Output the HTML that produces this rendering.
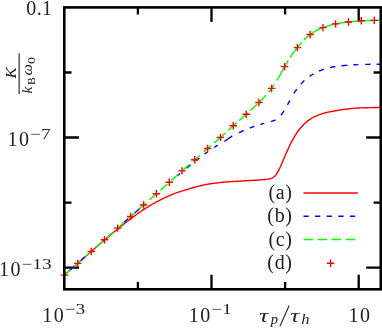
<!DOCTYPE html>
<html><head><meta charset="utf-8"><title>plot</title>
<style>
html,body{margin:0;padding:0;background:#fff;}
body{width:382px;height:328px;overflow:hidden;}
svg{display:block;will-change:transform;}
text{font-family:"Liberation Serif",serif;fill:#222;}
.t{font-size:20px;}
.s{font-size:14px;}
.i{font-style:italic;}
</style></head><body>
<svg width="382" height="328" viewBox="0 0 382 328">
<rect width="382" height="328" fill="#fff"/>
<path d="M137.9,289.3v-7.2M137.9,7.4v7.2M211.5,289.3v-14.6M211.5,7.4v14.6M285.1,289.3v-7.2M285.1,7.4v7.2M358.7,289.3v-14.6M358.7,7.4v14.6M64.3,72.5h7.2M380.8,72.5h-7.2M64.3,137.5h14.6M380.8,137.5h-14.6M64.3,202.6h7.2M380.8,202.6h-7.2M64.3,267.6h14.6M380.8,267.6h-14.6" stroke="#000" stroke-width="2.3" fill="none"/>
<path d="M64.5,275.10 L65.5,274.17 L66.5,273.25 L67.5,272.34 L68.5,271.44 L69.5,270.56 L70.5,269.68 L71.5,268.81 L72.5,267.93 L73.5,267.05 L74.5,266.17 L75.5,265.29 L76.5,264.42 L77.5,263.54 L78.5,262.66 L79.5,261.78 L80.5,260.91 L81.5,260.03 L82.5,259.16 L83.5,258.28 L84.5,257.41 L85.5,256.53 L86.5,255.66 L87.5,254.78 L88.5,253.91 L89.5,253.04 L90.5,252.17 L91.5,251.30 L92.5,250.43 L93.5,249.56 L94.5,248.70 L95.5,247.83 L96.5,246.96 L97.5,246.10 L98.5,245.24 L99.5,244.38 L100.5,243.52 L101.5,242.66 L102.5,241.80 L103.5,240.94 L104.5,240.09 L105.5,239.24 L106.5,238.39 L107.5,237.54 L108.5,236.69 L109.5,235.85 L110.5,235.01 L111.5,234.17 L112.5,233.33 L113.5,232.50 L114.5,231.67 L115.5,230.84 L116.5,230.02 L117.5,229.20 L118.5,228.38 L119.5,227.57 L120.5,226.76 L121.5,225.95 L122.5,225.15 L123.5,224.35 L124.5,223.56 L125.5,222.78 L126.5,221.99 L127.5,221.22 L128.5,220.45 L129.5,219.68 L130.5,218.92 L131.5,218.17 L132.5,217.42 L133.5,216.68 L134.5,215.95 L135.5,215.23 L136.5,214.51 L137.5,213.80 L138.5,213.09 L139.5,212.40 L140.5,211.71 L141.5,211.03 L142.5,210.36 L143.5,209.70 L144.5,209.05 L145.5,208.41 L146.5,207.77 L147.5,207.14 L148.5,206.53 L149.5,205.92 L150.5,205.32 L151.5,204.73 L152.5,204.15 L153.5,203.58 L154.5,203.02 L155.5,202.46 L156.5,201.92 L157.5,201.38 L158.5,200.86 L159.5,200.34 L160.5,199.83 L161.5,199.33 L162.5,198.84 L163.5,198.35 L164.5,197.87 L165.5,197.41 L166.5,196.94 L167.5,196.49 L168.5,196.04 L169.5,195.60 L170.5,195.16 L171.5,194.74 L172.5,194.33 L173.5,193.92 L174.5,193.53 L175.5,193.15 L176.5,192.79 L177.5,192.45 L178.5,192.12 L179.5,191.79 L180.5,191.48 L181.5,191.17 L182.5,190.87 L183.5,190.59 L184.5,190.31 L185.5,190.02 L186.5,189.73 L187.5,189.42 L188.5,189.10 L189.5,188.77 L190.5,188.43 L191.5,188.11 L192.5,187.79 L193.5,187.50 L194.5,187.22 L195.5,186.95 L196.5,186.68 L197.5,186.42 L198.5,186.17 L199.5,185.93 L200.5,185.70 L201.5,185.48 L202.5,185.26 L203.5,185.05 L204.5,184.85 L205.5,184.66 L206.5,184.47 L207.5,184.29 L208.5,184.12 L209.5,183.95 L210.5,183.79 L211.5,183.64 L212.5,183.50 L213.5,183.36 L214.5,183.22 L215.5,183.10 L216.5,182.97 L217.5,182.85 L218.5,182.74 L219.5,182.63 L220.5,182.52 L221.5,182.42 L222.5,182.32 L223.5,182.23 L224.5,182.14 L225.5,182.05 L226.5,181.96 L227.5,181.88 L228.5,181.81 L229.5,181.74 L230.5,181.67 L231.5,181.60 L232.5,181.53 L233.5,181.47 L234.5,181.40 L235.5,181.34 L236.5,181.28 L237.5,181.22 L238.5,181.16 L239.5,181.10 L240.5,181.04 L241.5,180.99 L242.5,180.93 L243.5,180.87 L244.5,180.82 L245.5,180.77 L246.5,180.72 L247.5,180.67 L248.5,180.62 L249.5,180.57 L250.5,180.52 L251.5,180.47 L252.5,180.42 L253.5,180.36 L254.5,180.30 L255.5,180.24 L256.5,180.18 L257.5,180.12 L258.5,180.05 L259.5,179.99 L260.5,179.92 L261.5,179.84 L262.5,179.76 L263.5,179.67 L264.5,179.57 L265.5,179.46 L266.5,179.33 L267.5,179.18 L268.5,179.00 L269.5,178.77 L270.5,178.51 L271.5,178.20 L272.5,177.77 L273.5,177.21 L274.5,176.50 L275.5,175.59 L276.5,174.16 L277.5,172.45 L278.5,170.63 L279.5,168.60 L280.5,166.47 L281.5,164.20 L282.5,161.84 L283.5,159.48 L284.5,157.10 L285.5,154.77 L286.5,152.56 L287.5,150.39 L288.5,148.19 L289.5,145.93 L290.5,143.80 L291.5,141.89 L292.5,140.12 L293.5,138.38 L294.5,136.65 L295.5,134.98 L296.5,133.39 L297.5,131.87 L298.5,130.47 L299.5,129.22 L300.5,128.07 L301.5,126.93 L302.5,125.79 L303.5,124.70 L304.5,123.68 L305.5,122.77 L306.5,121.93 L307.5,121.16 L308.5,120.42 L309.5,119.69 L310.5,118.98 L311.5,118.31 L312.5,117.71 L313.5,117.19 L314.5,116.71 L315.5,116.27 L316.5,115.85 L317.5,115.46 L318.5,115.07 L319.5,114.69 L320.5,114.32 L321.5,113.97 L322.5,113.64 L323.5,113.33 L324.5,113.05 L325.5,112.78 L326.5,112.53 L327.5,112.30 L328.5,112.07 L329.5,111.86 L330.5,111.66 L331.5,111.47 L332.5,111.29 L333.5,111.12 L334.5,110.95 L335.5,110.78 L336.5,110.61 L337.5,110.44 L338.5,110.27 L339.5,110.10 L340.5,109.93 L341.5,109.77 L342.5,109.61 L343.5,109.47 L344.5,109.34 L345.5,109.21 L346.5,109.08 L347.5,108.96 L348.5,108.85 L349.5,108.74 L350.5,108.64 L351.5,108.54 L352.5,108.46 L353.5,108.37 L354.5,108.29 L355.5,108.20 L356.5,108.13 L357.5,108.06 L358.5,108.00 L359.5,107.94 L360.5,107.90 L361.5,107.87 L362.5,107.84 L363.5,107.81 L364.5,107.78 L365.5,107.75 L366.5,107.72 L367.5,107.69 L368.5,107.67 L369.5,107.64 L370.5,107.62 L371.5,107.60 L372.5,107.58 L373.5,107.56 L374.5,107.55 L375.5,107.54 L376.5,107.52 L377.5,107.51 L378.5,107.51 L379.5,107.50 L380.5,107.50" stroke="#ff0000" stroke-width="1.4" fill="none"/>
<path d="M70.0,270.07 L70.5,269.62 L71.0,269.18 L71.5,268.74 L72.0,268.30 L72.5,267.86 L73.0,267.42 L73.5,266.98 L74.0,266.54 L74.5,266.09M81.0,260.35 L81.5,259.91 L82.0,259.47 L82.5,259.03 L83.0,258.59 L83.5,258.14 L84.0,257.70 L84.5,257.26 L85.0,256.82 L85.5,256.38M124.0,222.38 L124.5,221.94 L125.0,221.50 L125.5,221.06 L126.0,220.62 L126.5,220.18 L127.0,219.74 L127.5,219.30 L128.0,218.85 L128.5,218.41M134.8,212.86 L135.3,212.42 L135.8,211.98 L136.3,211.54 L136.8,211.10 L137.3,210.66 L137.8,210.22 L138.3,209.78 L138.8,209.34 L139.3,208.90M177.5,175.69 L178.0,175.27 L178.5,174.85 L179.0,174.43 L179.5,174.00 L180.0,173.58M186.6,168.09 L187.1,167.68 L187.6,167.27 L188.1,166.86 L188.6,166.45 L189.1,166.05 L189.6,165.64 L190.1,165.23 L190.6,164.83M195.8,160.69 L196.3,160.30 L196.8,159.91 L197.3,159.53 L197.8,159.14 L198.3,158.76 L198.8,158.37 L199.3,157.99M204.6,154.03 L205.1,153.67 L205.6,153.31 L206.1,152.95 L206.6,152.59 L207.1,152.24 L207.6,151.88M214.2,147.40 L214.7,147.08 L215.2,146.75 L215.7,146.43 L216.2,146.11 L216.7,145.80 L217.2,145.49 L217.7,145.17M224.3,141.32 L224.8,141.04 L225.3,140.76 L225.8,140.46 L226.3,140.16 L226.8,139.84 L227.3,139.50 L227.8,139.16 L228.3,138.80 L228.8,138.44 L229.3,138.08 L229.8,137.71 L230.3,137.34 L230.8,136.98 L231.3,136.62 L231.8,136.27 L232.3,135.93M238.9,132.66 L239.4,132.46 L239.9,132.26 L240.4,132.05 L240.9,131.84 L241.4,131.63 L241.9,131.41 L242.4,131.19 L242.9,130.97 L243.4,130.75 L243.9,130.53M249.9,127.98 L250.4,127.77 L250.9,127.57 L251.4,127.37 L251.9,127.18 L252.4,127.00 L252.9,126.82 L253.4,126.65 L253.9,126.48 L254.4,126.32M260.3,124.49 L260.8,124.33 L261.3,124.18 L261.8,124.03 L262.3,123.88 L262.8,123.73 L263.3,123.59 L263.8,123.44 L264.3,123.30M271.0,121.51 L271.5,121.36 L272.0,121.20 L272.5,121.04 L273.0,120.87 L273.5,120.69 L274.0,120.50 L274.5,120.30 L275.0,120.08 L275.5,119.84M281.0,115.22 L281.5,114.53 L282.0,113.80 L282.5,113.05 L283.0,112.30 L283.5,111.52 L284.0,110.72M287.4,104.93 L287.9,104.07 L288.4,103.21 L288.9,102.32 L289.4,101.42 L289.9,100.50M293.8,93.50 L294.3,92.71 L294.8,91.95 L295.3,91.22 L295.8,90.51 L296.3,89.82 L296.8,89.15M300.9,84.16 L301.4,83.62 L301.9,83.10 L302.4,82.58 L302.9,82.07 L303.4,81.57 L303.9,81.08 L304.4,80.60M309.5,76.44 L310.0,76.10 L310.5,75.77 L311.0,75.44 L311.5,75.12 L312.0,74.81 L312.5,74.50 L313.0,74.20 L313.5,73.91M318.9,71.19 L319.4,70.97 L319.9,70.76 L320.4,70.56 L320.9,70.35 L321.4,70.15 L321.9,69.96 L322.4,69.76 L322.9,69.58 L323.4,69.39 L323.9,69.21M329.9,67.52 L330.4,67.42 L330.9,67.32 L331.4,67.23 L331.9,67.13 L332.4,67.04 L332.9,66.95 L333.4,66.87 L333.9,66.78 L334.4,66.70 L334.9,66.62 L335.4,66.55M341.4,65.78 L341.9,65.73 L342.4,65.68 L342.9,65.64 L343.4,65.59 L343.9,65.55 L344.4,65.50 L344.9,65.46 L345.4,65.42 L345.9,65.37 L346.4,65.33 L346.9,65.29 L347.4,65.25M353.4,64.82 L353.9,64.79 L354.4,64.76 L354.9,64.73 L355.4,64.70 L355.9,64.68 L356.4,64.65 L356.9,64.63 L357.4,64.61 L357.9,64.59 L358.4,64.57M365.1,64.40 L365.6,64.39 L366.1,64.38 L366.6,64.36 L367.1,64.35 L367.6,64.34 L368.1,64.34 L368.6,64.33 L369.1,64.32 L369.6,64.31 L370.1,64.30 L370.6,64.29M376.6,64.22 L377.1,64.21 L377.6,64.21 L378.1,64.21 L378.6,64.21 L379.1,64.20 L379.6,64.20 L380.1,64.20 L380.6,64.20" stroke="#0000ff" stroke-width="1.4" fill="none"/>
<path d="M64.5,275.10 L65.0,274.66 L65.5,274.22 L66.0,273.79 L66.5,273.35 L67.0,272.91 L67.5,272.47 L68.0,272.03 L68.5,271.59 L69.0,271.15 L69.5,270.71 L70.0,270.28 L70.5,269.84M74.0,266.75 L74.5,266.31 L75.0,265.87 L75.5,265.43 L76.0,264.99 L76.5,264.55 L77.0,264.11 L77.5,263.67 L78.0,263.22 L78.5,262.78 L79.0,262.34 L79.5,261.90 L80.0,261.45 L80.5,261.01 L81.0,260.57M84.8,257.19 L85.3,256.74 L85.8,256.30 L86.3,255.86 L86.8,255.41 L87.3,254.97 L87.8,254.52 L88.3,254.08 L88.8,253.63 L89.3,253.19 L89.8,252.74 L90.3,252.30 L90.8,251.86 L91.3,251.41 L91.8,250.97M95.6,247.59 L96.1,247.15 L96.6,246.70 L97.1,246.26 L97.6,245.81 L98.1,245.37 L98.6,244.93 L99.1,244.48 L99.6,244.04 L100.1,243.59 L100.6,243.15 L101.1,242.71 L101.6,242.27 L102.1,241.82 L102.6,241.38M106.4,238.03 L106.9,237.59 L107.4,237.15 L107.9,236.71 L108.4,236.27 L108.9,235.83 L109.4,235.39 L109.9,234.96 L110.4,234.52 L110.9,234.08 L111.4,233.64 L111.9,233.20 L112.4,232.77 L112.9,232.33 L113.4,231.89M117.2,228.54 L117.7,228.10 L118.2,227.66 L118.7,227.21 L119.2,226.77 L119.7,226.33 L120.2,225.88 L120.7,225.43 L121.2,224.99 L121.7,224.54 L122.2,224.10 L122.7,223.65 L123.2,223.20 L123.7,222.76 L124.2,222.31M128.0,218.91 L128.5,218.46 L129.0,218.02 L129.5,217.57 L130.0,217.12 L130.5,216.68 L131.0,216.23 L131.5,215.79 L132.0,215.34 L132.5,214.89 L133.0,214.45 L133.5,214.00 L134.0,213.55 L134.5,213.11 L135.0,212.66M138.8,209.26 L139.3,208.82 L139.8,208.37 L140.3,207.93 L140.8,207.48 L141.3,207.04 L141.8,206.59 L142.3,206.15 L142.8,205.71 L143.3,205.27 L143.8,204.82 L144.3,204.38 L144.8,203.94 L145.3,203.50 L145.8,203.07M149.6,199.75 L150.1,199.31 L150.6,198.88 L151.1,198.44 L151.6,198.01 L152.1,197.57 L152.6,197.13 L153.1,196.70 L153.6,196.26 L154.1,195.82 L154.6,195.38 L155.1,194.95 L155.6,194.51 L156.1,194.06 L156.6,193.62M160.4,190.25 L160.9,189.81 L161.4,189.36 L161.9,188.92 L162.4,188.47 L162.9,188.02 L163.4,187.58 L163.9,187.13 L164.4,186.68 L164.9,186.24 L165.4,185.79 L165.9,185.34 L166.4,184.89 L166.9,184.45 L167.4,184.00M171.2,180.59 L171.7,180.14 L172.2,179.69 L172.7,179.24 L173.2,178.79 L173.7,178.34 L174.2,177.89 L174.7,177.44 L175.2,176.99 L175.7,176.54 L176.2,176.08 L176.7,175.63 L177.2,175.18 L177.7,174.73 L178.2,174.28M182.0,170.90 L182.5,170.46 L183.0,170.02 L183.5,169.58 L184.0,169.15 L184.5,168.71 L185.0,168.28 L185.5,167.84 L186.0,167.41 L186.5,166.98 L187.0,166.55 L187.5,166.11 L188.0,165.68 L188.5,165.25 L189.0,164.82M192.8,161.54 L193.3,161.11 L193.8,160.67 L194.3,160.24 L194.8,159.80 L195.3,159.36 L195.8,158.92 L196.3,158.48 L196.8,158.04 L197.3,157.60 L197.8,157.16 L198.3,156.72 L198.8,156.27 L199.3,155.83 L199.8,155.39M203.6,152.02 L204.1,151.57 L204.6,151.13 L205.1,150.69 L205.6,150.25 L206.1,149.81 L206.6,149.37 L207.1,148.94 L207.6,148.50 L208.1,148.07 L208.6,147.63 L209.1,147.20 L209.6,146.77 L210.1,146.34 L210.6,145.91 L211.1,145.48M214.0,143.01 L214.5,142.58 L215.0,142.16 L215.5,141.73 L216.0,141.30 L216.5,140.87 L217.0,140.45 L217.5,140.01 L218.0,139.58 L218.5,139.15 L219.0,138.72 L219.5,138.28 L220.0,137.84 L220.5,137.40 L221.0,136.96 L221.5,136.51 L222.0,136.07 L222.5,135.62 L223.0,135.17 L223.5,134.72 L224.0,134.27 L224.5,133.82 L225.0,133.36 L225.5,132.91M228.2,130.44 L228.7,129.99 L229.2,129.53 L229.7,129.07 L230.2,128.62 L230.7,128.16 L231.2,127.70 L231.7,127.25 L232.2,126.80 L232.7,126.34 L233.2,125.89 L233.7,125.44 L234.2,124.99 L234.7,124.54 L235.2,124.09 L235.7,123.64 L236.2,123.19 L236.7,122.74M239.3,120.41 L239.8,119.97 L240.3,119.52 L240.8,119.07 L241.3,118.62 L241.8,118.17 L242.3,117.72 L242.8,117.28 L243.3,116.82 L243.8,116.37 L244.3,115.92 L244.8,115.47 L245.3,115.02 L245.8,114.56 L246.3,114.11 L246.8,113.65 L247.3,113.20 L247.8,112.75M249.9,110.85 L250.4,110.40 L250.9,109.95 L251.4,109.49 L251.9,109.04 L252.4,108.58 L252.9,108.13 L253.4,107.67 L253.9,107.21 L254.4,106.75 L254.9,106.29 L255.4,105.83 L255.9,105.36 L256.4,104.89 L256.9,104.42 L257.4,103.94M259.5,101.92 L260.0,101.43 L260.5,100.94 L261.0,100.44 L261.5,99.95 L262.0,99.45 L262.5,98.94 L263.0,98.43 L263.5,97.91 L264.0,97.38 L264.5,96.84 L265.0,96.30 L265.5,95.75 L266.0,95.19M268.7,92.08 L269.2,91.48 L269.7,90.86 L270.2,90.23 L270.7,89.59 L271.2,88.94 L271.7,88.26 L272.2,87.57 L272.7,86.86 L273.2,86.14 L273.7,85.39 L274.2,84.63M276.8,80.49 L277.3,79.66 L277.8,78.83 L278.3,78.00 L278.8,77.14 L279.3,76.25 L279.8,75.35 L280.3,74.44 L280.8,73.52 L281.3,72.59 L281.8,71.66 L282.3,70.73 L282.8,69.81 L283.3,68.89 L283.8,68.00 L284.3,67.12 L284.8,66.26 L285.3,65.41 L285.8,64.56 L286.3,63.71 L286.8,62.87 L287.3,62.04 L287.8,61.21 L288.3,60.39M290.1,57.55 L290.6,56.79 L291.1,56.05 L291.6,55.33 L292.1,54.61 L292.6,53.91 L293.1,53.22 L293.6,52.53 L294.1,51.86 L294.6,51.20 L295.1,50.54 L295.6,49.89 L296.1,49.25 L296.6,48.61 L297.1,47.98 L297.6,47.35 L298.1,46.72 L298.6,46.09 L299.1,45.47 L299.6,44.85 L300.1,44.24 L300.6,43.63 L301.1,43.04 L301.6,42.46M303.9,40.00 L304.4,39.51 L304.9,39.02 L305.4,38.55 L305.9,38.08 L306.4,37.63 L306.9,37.19 L307.4,36.75 L307.9,36.33 L308.4,35.91 L308.9,35.51 L309.4,35.11 L309.9,34.73 L310.4,34.35 L310.9,33.98 L311.4,33.62 L311.9,33.26 L312.4,32.91 L312.9,32.57 L313.4,32.24 L313.9,31.91 L314.4,31.60 L314.9,31.29 L315.4,31.00 L315.9,30.72 L316.4,30.45 L316.9,30.19 L317.4,29.95 L317.9,29.70 L318.4,29.47 L318.9,29.24 L319.4,29.02 L319.9,28.80 L320.4,28.60 L320.9,28.39 L321.4,28.20 L321.9,28.00 L322.4,27.82 L322.9,27.64 L323.4,27.46 L323.9,27.28 L324.4,27.11 L324.9,26.93 L325.4,26.76 L325.9,26.59 L326.4,26.42 L326.9,26.26 L327.4,26.09 L327.9,25.93 L328.4,25.78 L328.9,25.62 L329.4,25.47 L329.9,25.32 L330.4,25.18 L330.9,25.03 L331.4,24.90 L331.9,24.76 L332.4,24.63 L332.9,24.50 L333.4,24.38 L333.9,24.26 L334.4,24.15 L334.9,24.04 L335.4,23.94 L335.9,23.84 L336.4,23.75 L336.9,23.65 L337.4,23.56 L337.9,23.47 L338.4,23.38 L338.9,23.30 L339.4,23.22 L339.9,23.14 L340.4,23.06 L340.9,22.98 L341.4,22.91 L341.9,22.83 L342.4,22.76 L342.9,22.69 L343.4,22.62 L343.9,22.55 L344.4,22.49 L344.9,22.42 L345.4,22.36 L345.9,22.30 L346.4,22.24 L346.9,22.18 L347.4,22.12 L347.9,22.06 L348.4,22.00 L348.9,21.94 L349.4,21.89 L349.9,21.83 L350.4,21.77 L350.9,21.71 L351.4,21.66 L351.9,21.60 L352.4,21.55 L352.9,21.49 L353.4,21.44 L353.9,21.39 L354.4,21.34 L354.9,21.29 L355.4,21.24 L355.9,21.19 L356.4,21.14 L356.9,21.10 L357.4,21.06 L357.9,21.02 L358.4,20.98 L358.9,20.94 L359.4,20.91 L359.9,20.88 L360.4,20.85 L360.9,20.82 L361.4,20.80 L361.9,20.77 L362.4,20.75 L362.9,20.73 L363.4,20.71 L363.9,20.69 L364.4,20.67 L364.9,20.65 L365.4,20.63 L365.9,20.62 L366.4,20.60 L366.9,20.58 L367.4,20.57 L367.9,20.55 L368.4,20.54 L368.9,20.52 L369.4,20.51 L369.9,20.50 L370.4,20.49 L370.9,20.47 L371.4,20.46 L371.9,20.45 L372.4,20.44 L372.9,20.43 L373.4,20.42 L373.9,20.41 L374.4,20.40 L374.9,20.39 L375.4,20.38 L375.9,20.37 L376.4,20.36 L376.9,20.35 L377.4,20.35 L377.9,20.34 L378.4,20.33 L378.9,20.32 L379.4,20.32 L379.9,20.31 L380.4,20.31 L380.9,20.30" stroke="#00ff00" stroke-width="1.4" fill="none"/>
<path d="M60.8,275.1h7.4M64.5,271.4v7.4M74.1,263.4h7.4M77.8,259.7v7.4M87.5,251.5h7.4M91.2,247.8v7.4M100.8,239.7h7.4M104.5,236.0v7.4M114.0,228.1h7.4M117.7,224.4v7.4M127.0,216.5h7.4M130.7,212.8v7.4M139.9,205.0h7.4M143.6,201.3v7.4M152.7,193.8h7.4M156.4,190.1v7.4M165.6,182.3h7.4M169.3,178.6v7.4M178.3,170.9h7.4M182.0,167.2v7.4M191.1,159.8h7.4M194.8,156.1v7.4M203.9,148.5h7.4M207.6,144.8v7.4M216.8,137.4h7.4M220.5,133.7v7.4M229.6,125.8h7.4M233.3,122.1v7.4M242.5,114.2h7.4M246.2,110.5v7.4M255.2,102.5h7.4M258.9,98.8v7.4M267.9,88.4h7.4M271.6,84.7v7.4M280.9,66.6h7.4M284.6,62.9v7.4M293.7,47.6h7.4M297.4,43.9v7.4M306.5,34.5h7.4M310.2,30.8v7.4M319.3,27.6h7.4M323.0,23.9v7.4M331.9,23.9h7.4M335.6,20.2v7.4M344.7,22.0h7.4M348.4,18.3v7.4M357.6,20.8h7.4M361.3,17.1v7.4M370.6,20.4h7.4M374.3,16.7v7.4M326.9,263.2h7.4M330.6,259.5v7.4" stroke="#ff0000" stroke-width="1.4" fill="none"/>
<rect x="64.3" y="7.4" width="316.5" height="281.90000000000003" fill="none" stroke="#000" stroke-width="2.6"/>
<!-- legend -->
<path d="M303.5,193H357.9" stroke="#ff0000" stroke-width="1.4"/>
<path d="M303.5,216.3H357.9" stroke="#0000ff" stroke-width="1.4" stroke-dasharray="5.2 6.4"/>
<path d="M303.5,239.5H357.9" stroke="#00ff00" stroke-width="1.4" stroke-dasharray="9.6 4.4"/>
<text class="t" x="292.7" y="199" letter-spacing="0.7" text-anchor="end">(a)</text>
<text class="t" x="292.7" y="222" letter-spacing="0.7" text-anchor="end">(b)</text>
<text class="t" x="292.7" y="245.5" letter-spacing="0.7" text-anchor="end">(c)</text>
<text class="t" x="292.7" y="269" letter-spacing="0.7" text-anchor="end">(d)</text>
<!-- y labels -->
<text class="t" x="52.5" y="14.7" text-anchor="end" letter-spacing="0.4">0.1</text>
<text class="t" x="7.6000000000000005" y="146.3" letter-spacing="1.5">10</text><text transform="translate(30.1,138.70000000000002) scale(1.25,1)" font-size="15" letter-spacing="0.4">−7</text>
<text class="t" x="-1.1" y="276.3" letter-spacing="1.5">10</text><text transform="translate(21.400000000000002,268.7) scale(1.25,1)" font-size="15" letter-spacing="0.4">−13</text>
<!-- x labels -->
<text class="t" x="42.3" y="321.7" letter-spacing="1.5">10</text><text transform="translate(64.8,314.09999999999997) scale(1.25,1)" font-size="15" letter-spacing="0.4">−3</text>
<text class="t" x="188.8" y="321.7" letter-spacing="1.5">10</text><text transform="translate(211.3,314.09999999999997) scale(1.25,1)" font-size="15" letter-spacing="0.4">−1</text>
<text class="t" x="348.6" y="321.7" letter-spacing="1.5">10</text>
<text transform="translate(259.2,321.5) scale(1.33,1)" font-size="19" font-style="italic" fill="#333">τ</text><text transform="translate(270.8,323.6) scale(1.0,1)" font-size="14.5" font-style="italic" fill="#333">p</text><path d="M279.9,326.2L289.2,305.6" stroke="#222" stroke-width="1.1"/><text transform="translate(290.2,321.5) scale(1.33,1)" font-size="19" font-style="italic" fill="#333">τ</text><text transform="translate(301.3,324.3) scale(1.1,1)" font-size="15" font-style="italic" fill="#333">h</text>
<!-- y axis title -->
<path d="M19.15,53.3V94" stroke="#1a1a1a" stroke-width="1.1"/>
<text transform="translate(16.0,78.5) rotate(-90) translate(0,0) scale(1.13,1)" font-size="15" font-style="italic">K</text>
<text transform="translate(31.7,93.6) rotate(-90) translate(0,0) scale(1.1,1)" font-size="14" font-style="italic">k</text>
<text transform="translate(31.7,93.6) rotate(-90) translate(8.6,3.3) scale(1.1,1)" font-size="10.5">B</text>
<text transform="translate(31.7,93.6) rotate(-90) translate(18.2,0) scale(1.15,1)" font-size="14" font-style="italic">ω</text>
<text transform="translate(31.7,93.6) rotate(-90) translate(29.6,3.5) scale(1.35,1)" font-size="10.5">0</text>
</svg>
</body></html>
